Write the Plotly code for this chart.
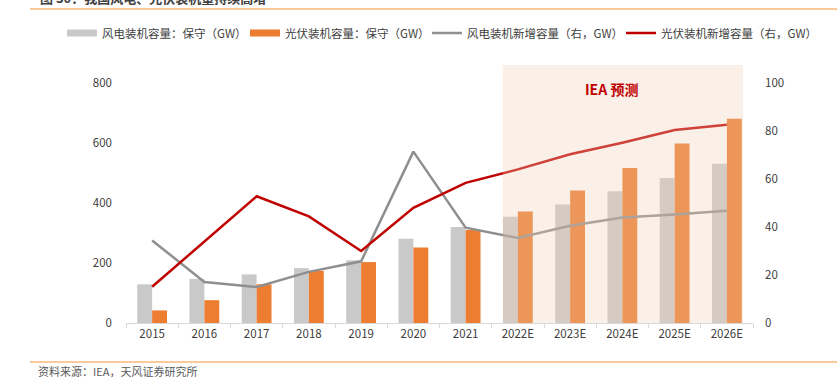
import plotly.graph_objects as go

years = ["2015", "2016", "2017", "2018", "2019", "2020", "2021",
         "2022E", "2023E", "2024E", "2025E", "2026E"]
wind_cum = [129, 147, 162, 183, 209, 281, 320, 354, 395, 439, 483, 531]
pv_cum = [42, 76, 129, 174, 203, 252, 310, 372, 442, 517, 598, 681]
wind_new = [34.4, 17.1, 15.0, 21.3, 25.7, 71.4, 39.7, 35.4, 40.5, 44.0, 45.2, 46.8]
pv_new = [15.1, 34.0, 52.8, 44.4, 30.0, 48.0, 58.4, 64.0, 70.3, 75.1, 80.4, 82.6]

names = ["风电装机容量：保守（GW）", "光伏装机容量：保守（GW）",
         "风电装机新增容量（右，GW）", "光伏装机新增容量（右，GW）"]
GREY_BAR = "#c9c9c9"
ORANGE = "#ed7d31"
GREY_LINE = "#8f8f8f"
RED = "#c00000"
FONT = "Noto Sans CJK SC"

W, H = 837, 384
ML, MR, MT, MB = 126, 84, 83, 61
PW, PH = W - ML - MR, H - MT - MB


def px_x(p):
    return (p - ML) / PW


def px_y(p):
    return (H - MB - p) / PH


fig = go.Figure()
fig.add_trace(go.Bar(x=years, y=wind_cum, marker=dict(color=GREY_BAR, line=dict(width=0)),
                     name=names[0], showlegend=False))
fig.add_trace(go.Bar(x=years, y=pv_cum, marker=dict(color=ORANGE, line=dict(width=0)),
                     name=names[1], showlegend=False))
fig.add_trace(go.Scatter(x=years, y=wind_new, mode="lines", yaxis="y2",
                         line=dict(color=GREY_LINE, width=2.5), name=names[2], showlegend=False))
fig.add_trace(go.Scatter(x=years, y=pv_new, mode="lines", yaxis="y2",
                         line=dict(color=RED, width=2.5), name=names[3], showlegend=False))

# legend entries
for nm, col, w, lw in [(names[0], GREY_BAR, 7, 138), (names[1], ORANGE, 7, 137),
                       (names[2], GREY_LINE, 2.5, 149), (names[3], RED, 2.5, 150)]:
    fig.add_trace(go.Scatter(x=[None], y=[None], mode="lines", name=nm,
                             line=dict(color=col, width=w), legendwidth=lw))

fig.update_layout(
    width=W, height=H,
    margin=dict(l=ML, r=MR, t=MT, b=MB, autoexpand=False),
    paper_bgcolor="white", plot_bgcolor="white",
    font=dict(family=FONT, size=12, color="#404040"),
    barmode="group", bargap=0.43, bargroupgap=0,
    showlegend=True,
    legend=dict(orientation="h", x=px_x(62), xanchor="left", y=px_y(33), yanchor="middle",
                font=dict(size=11.5, color="#404040"), bgcolor="rgba(0,0,0,0)",
                itemwidth=30, tracegroupgap=0),
    xaxis=dict(type="category", showgrid=False, showline=True, linecolor="#d9d9d9",
               linewidth=1, ticks="outside", tickson="boundaries", ticklen=4,
               tickcolor="#d9d9d9", tickfont=dict(size=11.5, color="#404040"),
               zeroline=False, automargin=False),
    yaxis=dict(range=[0, 800], dtick=200, showgrid=False, zeroline=False, showline=False,
               tickfont=dict(size=11.5, color="#404040"), ticks="", ticklabelstandoff=13,
               automargin=False),
    yaxis2=dict(range=[0, 100], dtick=20, overlaying="y", side="right", showgrid=False,
                zeroline=False, showline=False, tickfont=dict(size=11.5, color="#404040"),
                ticks="", ticklabelstandoff=11, automargin=False),
)

fig.add_shape(type="rect", xref="x", yref="paper", x0=6.71, x1=11.31, y0=0, y1=px_y(65),
              fillcolor="rgba(239,207,182,0.315)", line=dict(width=0), layer="above")
fig.add_annotation(text="<b>IEA 预测</b>", xref="x", yref="paper", x=8.8, y=px_y(77),
                   showarrow=False, font=dict(size=14, color=RED, family=FONT))

# header / footer decoration
for yy in (9, 362):
    fig.add_shape(type="line", xref="paper", yref="paper", x0=px_x(30), x1=px_x(837),
                  y0=px_y(yy), y1=px_y(yy), line=dict(color="#fbc99b", width=2))
fig.add_annotation(text="<b>图 30：我国风电、光伏装机量持续高增</b>", xref="paper", yref="paper",
                   x=px_x(38), xanchor="left", y=px_y(9), yanchor="bottom",
                   showarrow=False, font=dict(size=13, color="#404040", family=FONT))
fig.add_annotation(text="资料来源：IEA，天风证券研究所", xref="paper", yref="paper",
                   x=px_x(36), xanchor="left", y=px_y(371), yanchor="middle",
                   showarrow=False, font=dict(size=11, color="#595959", family=FONT))

fig.write_html("out.html", config={"displayModeBar": False},
               post_script="document.body.style.margin='0';document.body.style.padding='0';")
